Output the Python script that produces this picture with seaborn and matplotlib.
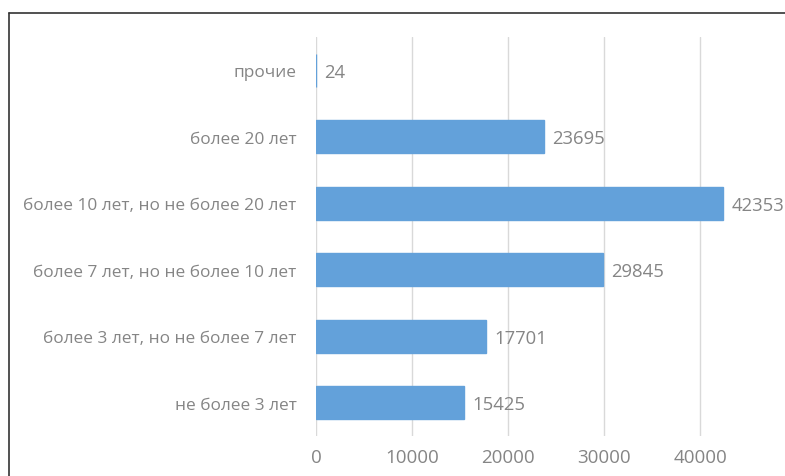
import matplotlib
matplotlib.use("Agg")
import matplotlib.pyplot as plt
import pandas as pd
import seaborn as sns
from matplotlib.lines import Line2D

categories = [
    "прочие",
    "более 20 лет",
    "более 10 лет, но не более 20 лет",
    "более 7 лет, но не более 10 лет",
    "более 3 лет, но не более 7 лет",
    "не более 3 лет",
]
values = [24, 23695, 42353, 29845, 17701, 15425]
x_ticks = [0, 10000, 20000, 30000, 40000]

BAR_COLOR = "#63a1da"
TEXT_COLOR = "#858585"
GRID_COLOR = "#d9d9d9"

sns.set_theme(style="white")
plt.rcParams["font.family"] = ["Open Sans", "DejaVu Sans"]

df = pd.DataFrame({"category": categories, "value": values})

W, H = 785, 477
fig = plt.figure(figsize=(W / 100, H / 100), dpi=100)
ax = fig.add_axes([316 / W, 1 - 437 / H, 1 - 316 / W, (437 - 38) / H])

sns.barplot(data=df, y="category", x="value", orient="h", color=BAR_COLOR,
            width=0.5, saturation=1, edgecolor=BAR_COLOR, linewidth=1, ax=ax)

ax.set_xlim(0, (W - 316) / 96.1 * 10000)
ax.set_ylim(len(categories) - 0.5, -0.5)
ax.set_xticks(x_ticks)
ax.set_xticklabels([str(t) for t in x_ticks])
ax.xaxis.grid(True, color=GRID_COLOR, linewidth=1)
ax.set_axisbelow(True)
for s in ax.spines.values():
    s.set_visible(False)
ax.tick_params(axis="both", length=0, colors=TEXT_COLOR)
ax.tick_params(axis="x", pad=9, labelsize=13.5)
ax.tick_params(axis="y", pad=14, labelsize=12.4)
ax.set_xlabel("")
ax.set_ylabel("")

for i, v in enumerate(values):
    ax.annotate(str(v), xy=(v, i), xytext=(6, -1), textcoords="offset points",
                va="center", ha="left", fontsize=13.3, color=TEXT_COLOR)

# outer chart frame (cropped)
fig.add_artist(Line2D([9 / W, 1], [1 - 14 / H, 1 - 14 / H], color="#333333",
                      linewidth=1.2, transform=fig.transFigure))
fig.add_artist(Line2D([9 / W, 9 / W], [0, 1 - 14 / H], color="#333333",
                      linewidth=1.2, transform=fig.transFigure))

fig.savefig("out.png", dpi=100)
